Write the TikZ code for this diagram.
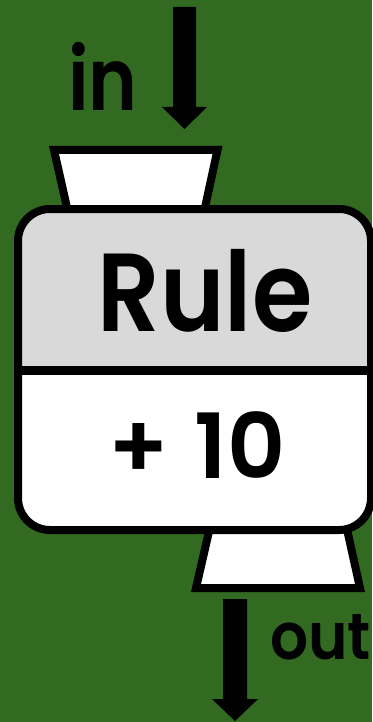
\documentclass[tikz,border=0pt]{standalone}
\usepackage{fontspec}
\newfontfamily\pop{Poppins}[BoldFont={Poppins SemiBold}]
\definecolor{bg}{HTML}{336A21}
\definecolor{hdr}{HTML}{D9D9D9}
\tikzset{
  outl/.style={draw=black, line width=8pt, line join=miter},
  lbl/.style={inner sep=0pt, anchor=base, text=black},
  blockarrow/.style={fill=black}
}
\begin{document}
\begin{tikzpicture}[x=1pt,y=-1pt]
\useasboundingbox (0,0) rectangle (372,722);
\fill[bg] (0,0) rectangle (372,722);

% top funnel
\coordinate (t1) at (54,150);
\coordinate (t2) at (217.5,150);
\coordinate (t3) at (204,212);
\coordinate (t4) at (68,212);
\filldraw[outl, fill=white] (t1) -- (t2) -- (t3) -- (t4) -- cycle;

% bottom funnel
\coordinate (b1) at (210,527);
\coordinate (b2) at (346.5,527);
\coordinate (b3) at (360,588);
\coordinate (b4) at (196,588);
\filldraw[outl, fill=white] (b1) -- (b2) -- (b3) -- (b4) -- cycle;

% main box
\coordinate (boxnw) at (18,209);
\coordinate (boxse) at (371,530);
\begin{scope}
  \clip[rounded corners=32pt] (boxnw) rectangle (boxse);
  \fill[hdr] (18,209) rectangle (371,370);
  \fill[white] (18,370) rectangle (371,530);
\end{scope}
\draw[line width=9pt] (18,370) -- (371,370);
\draw[outl, rounded corners=32pt] (boxnw) rectangle (boxse);

% arrows
\fill[blockarrow] (173,7) -- (196,7) -- (196,107) -- (207,107) -- (184.5,129) -- (162,107) -- (173,107) -- cycle;
\fill[blockarrow] (223,599) -- (247,599) -- (247,699) -- (258,699) -- (235,721) -- (212,699) -- (223,699) -- cycle;

% texts
\node[lbl, font=\pop\bfseries\fontsize{111}{111}\selectfont] (rule) at (205,331) {\scalebox{0.88}[1]{Rule}};
\node[lbl, font=\pop\bfseries\fontsize{90}{90}\selectfont] (val) at (197,478) {+\hspace{26pt}10};
\node[lbl, anchor=base west, font=\pop\bfseries\fontsize{87}{87}\selectfont] (in) at (68,111) {\scalebox{0.85}[1]{in}};
\node[lbl, anchor=base west, font=\pop\bfseries\fontsize{65}{65}\selectfont] (out) at (270,659) {\scalebox{0.92}[1]{out}};
\end{tikzpicture}
\end{document}
